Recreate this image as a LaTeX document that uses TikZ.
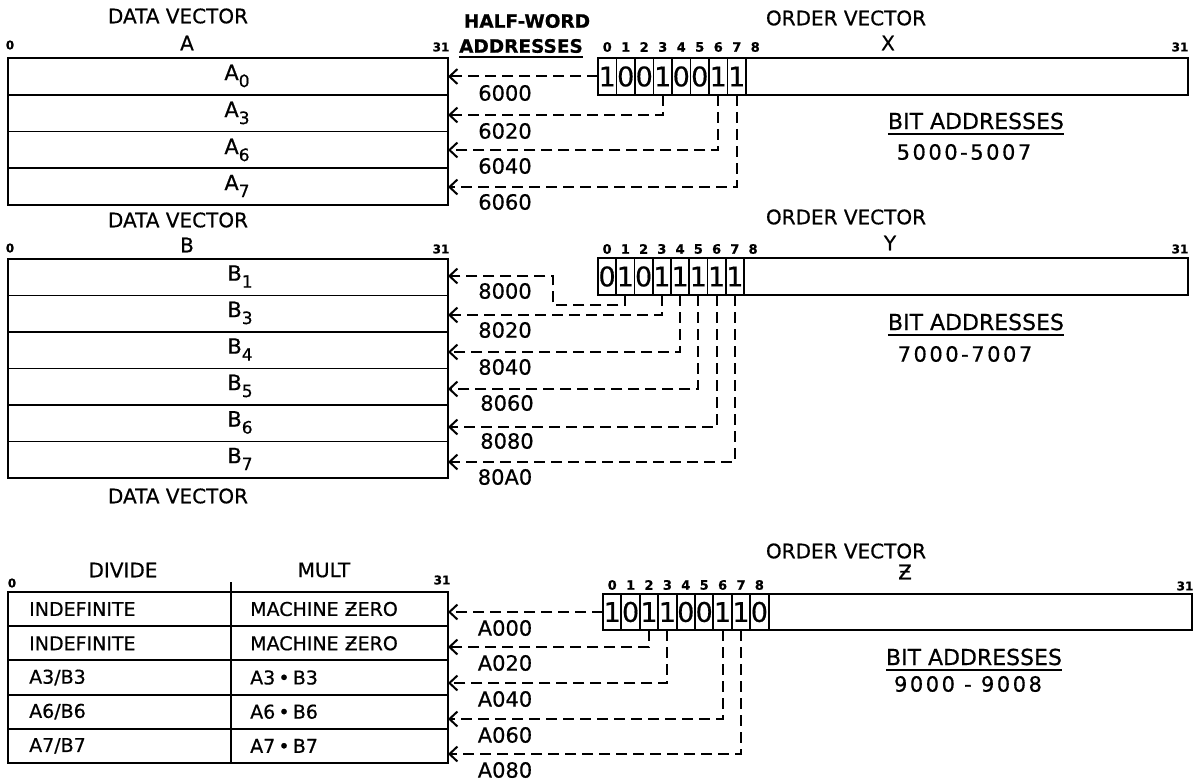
\documentclass[tikz,border=0pt]{standalone}
\usepackage{fontspec}
\setmainfont{DejaVu Sans}[FakeBold=0.6]
\newfontfamily\spacedfont[LetterSpace=12,FakeBold=0.6]{DejaVu Sans}
\usetikzlibrary{arrows.meta}
\newcommand\vsubs[2]{#1\raisebox{-7pt}{\fontsize{17}{17}\selectfont #2}}
\begin{document}
\begin{tikzpicture}[x=1pt,y=-1pt,
  box/.style={draw, line width=1.9pt, inner sep=0pt, outer sep=0pt, anchor=north west},
  bitcell/.style={box, font=\fontsize{27}{27}\selectfont},
  bitnum/.style={inner sep=0pt, font=\bfseries\fontsize{13}{13}\selectfont},
  endnum/.style={inner sep=0pt, font=\bfseries\fontsize{12}{12}\selectfont},
  head/.style={inner sep=0pt, font=\fontsize{20}{20}\selectfont},
  hbold/.style={inner sep=0pt, font=\bfseries\fontsize{18.5}{18.5}\selectfont},
  bita/.style={inner sep=0pt, font=\fontsize{22}{22}\selectfont},
  addrrange/.style={inner sep=0pt, font=\spacedfont\fontsize{21}{21}\selectfont},
  addr/.style={inner sep=0pt, font=\fontsize{21}{21}\selectfont},
  rowlbl/.style={inner sep=0pt, font=\fontsize{21}{21}\selectfont},
  tbl/.style={inner sep=0pt, anchor=west, font=\fontsize{19}{19}\selectfont},
  uline/.style={line width=1.8pt},
  solidline/.style={line width=1.9pt},
  conn/.style={line width=2pt, dash pattern=on 11pt off 6pt,
    -{Straight Barb[length=8pt,width=15pt,line width=2pt]}}
]
\useasboundingbox (0,0) rectangle (1196,781);

% ================= Section A =================
\node[head] (dvA) at (178,16) {DATA VECTOR};
\node[head] (lA) at (187,43) {A};
\node[endnum] (zA) at (10,45) {0};
\node[endnum] (tA) at (441,47) {31};
\node[box, minimum width=440pt, minimum height=36.75pt] (a0) at (8,58) {};
\node[box, minimum width=440pt, minimum height=36.75pt] (a3) at (8,94.75) {};
\node[box, minimum width=440pt, minimum height=36.75pt] (a6) at (8,131.5) {};
\node[box, minimum width=440pt, minimum height=36.75pt] (a7) at (8,168.25) {};
\node[rowlbl] (la0) at (237,76) {\vsubs{A}{0}};
\node[rowlbl] (la3) at (237,113) {\vsubs{A}{3}};
\node[rowlbl] (la6) at (237,150) {\vsubs{A}{6}};
\node[rowlbl] (la7) at (237,186) {\vsubs{A}{7}};

\node[hbold] (hw) at (527,21) {HALF-WORD};
\node[hbold] (hwa) at (521,46) {ADDRESSES};
\draw[uline] ([yshift=-4pt]hwa.base west) -- ([yshift=-4pt]hwa.base east);

\node[head] (ovX) at (846,18) {ORDER VECTOR};
\node[head] (lX) at (888,43) {X};
\foreach \b [count=\i from 0] in {1,0,0,1,0,0,1,1}
  \node[bitcell, minimum width=18.5pt, minimum height=37pt] (x\i) at ({598+18.5*\i},58) {\b};
\node[box, minimum width=442pt, minimum height=37pt] (xr) at (746,58) {};
\foreach \i in {0,...,8}
  \node[bitnum] (xn\i) at ({598+18.5*\i+9.25},47) {\i};
\node[endnum] (tX) at (1180,47) {31};
\node[bita] (baX) at (976,121) {BIT ADDRESSES};
\draw[uline] ([yshift=-5pt]baX.base west) -- ([yshift=-5pt]baX.base east);
\node[addrrange] (rX) at (964,152) {5000-5007};

\coordinate (pA0) at (448,76.5);
\coordinate (pA3) at (448,115);
\coordinate (pA6) at (448,150);
\coordinate (pA7) at (448,187);
\draw[conn] (x0.west) -- (pA0);
\draw[conn] (x3.south) |- (pA3);
\draw[conn] (x6.south) |- (pA6);
\draw[conn] (x7.south) |- (pA7);
\node[addr] (n6000) at (505,93) {6000};
\node[addr] (n6020) at (505,131) {6020};
\node[addr] (n6040) at (505,166) {6040};
\node[addr] (n6060) at (505,202) {6060};

% ================= Section B =================
\node[head] (dvB) at (178,220) {DATA VECTOR};
\node[head] (lB) at (187,245) {B};
\node[endnum] (zB) at (10,248) {0};
\node[endnum] (tB) at (441,249) {31};
\foreach \n [count=\k from 0] in {1,3,4,5,6,7} {
  \node[box, minimum width=440pt, minimum height=36.5pt] (b\n) at (8,{259+36.5*\k}) {};
  \node[rowlbl] (lb\n) at (240,{259+36.5*\k+17.5}) {\vsubs{B}{\n}};
}
\node[head] (dvB2) at (178,496) {DATA VECTOR};

\node[head] (ovY) at (846,217) {ORDER VECTOR};
\node[head] (lY) at (890,243) {Y};
\foreach \b [count=\i from 0] in {0,1,0,1,1,1,1,1}
  \node[bitcell, minimum width=18.25pt, minimum height=37pt] (y\i) at ({598+18.25*\i},258) {\b};
\node[box, minimum width=444pt, minimum height=37pt] (yr) at (744,258) {};
\foreach \i in {0,...,8}
  \node[bitnum] (yn\i) at ({598+18.25*\i+9.1},249) {\i};
\node[endnum] (tY) at (1180,249) {31};
\node[bita] (baY) at (976,322) {BIT ADDRESSES};
\draw[uline] ([yshift=-5pt]baY.base west) -- ([yshift=-5pt]baY.base east);
\node[addrrange] (rY) at (965,354) {7000-7007};

\coordinate (pB1) at (448,276);
\coordinate (kB1) at (553,305);
\coordinate (pB3) at (448,315);
\coordinate (pB4) at (448,352);
\coordinate (pB5) at (448,389);
\coordinate (pB6) at (448,427);
\coordinate (pB7) at (448,462);
\draw[conn] (y1.south) |- (kB1) |- (pB1);
\draw[conn] (y3.south) |- (pB3);
\draw[conn] (y4.south) |- (pB4);
\draw[conn] (y5.south) |- (pB5);
\draw[conn] (y6.south) |- (pB6);
\draw[conn] (y7.south) |- (pB7);
\node[addr] (n8000) at (505,291) {8000};
\node[addr] (n8020) at (505,330) {8020};
\node[addr] (n8040) at (505,367) {8040};
\node[addr] (n8060) at (507,403) {8060};
\node[addr] (n8080) at (507,441) {8080};
\node[addr] (n80A0) at (505,477) {80A0};

% ================= Section C =================
\node[head] (hdiv) at (123,570) {DIVIDE};
\node[head] (hmul) at (324,570) {MULT};
\node[endnum] (zC) at (12,583) {0};
\node[endnum] (tC) at (442,580) {31};
\node[box, minimum width=440pt, minimum height=34.2pt] (c0) at (8,592) {};
\node[box, minimum width=440pt, minimum height=34.2pt] (c2) at (8,626.2) {};
\node[box, minimum width=440pt, minimum height=34.2pt] (c3) at (8,660.4) {};
\node[box, minimum width=440pt, minimum height=34.2pt] (c6) at (8,694.6) {};
\node[box, minimum width=440pt, minimum height=34.2pt] (c7) at (8,728.8) {};
\coordinate (dtop) at (231,582);
\coordinate (dbot) at (231,763);
\draw[solidline] (dtop) -- (dbot);
\node[tbl] (cl0) at (29,609) {INDEFINITE};
\node[tbl] (cl2) at (29,643.3) {INDEFINITE};
\node[tbl] (cl3) at (29,677.5) {A3/B3};
\node[tbl] (cl6) at (29,711.7) {A6/B6};
\node[tbl] (cl7) at (29,745.9) {A7/B7};
\node[tbl] (cr0) at (250,609) {MACHINE ƵERO};
\node[tbl] (cr2) at (250,643.3) {MACHINE ƵERO};
\node[tbl] (cr3) at (250,677.5) {A3\,•\,B3};
\node[tbl] (cr6) at (250,711.7) {A6\,•\,B6};
\node[tbl] (cr7) at (250,745.9) {A7\,•\,B7};

\node[head] (ovZ) at (846,551) {ORDER VECTOR};
\node[head] (lZ) at (905,572) {Ƶ};
\foreach \b [count=\i from 0] in {1,0,1,1,0,0,1,1,0}
  \node[bitcell, minimum width=18.4pt, minimum height=36pt] (z\i) at ({603+18.4*\i},594) {\b};
\node[box, minimum width=423.4pt, minimum height=36pt] (zr) at (768.6,594) {};
\foreach \i in {0,...,8}
  \node[bitnum] (zn\i) at ({603+18.4*\i+9.2},585) {\i};
\node[endnum] (tZ) at (1185,586) {31};
\node[bita] (baZ) at (974,657) {BIT ADDRESSES};
\draw[uline] ([yshift=-5pt]baZ.base west) -- ([yshift=-5pt]baZ.base east);
\node[addrrange] (rZ) at (968,684) {9000 - 9008};

\coordinate (pC0) at (448,612);
\coordinate (pC2) at (448,647);
\coordinate (pC3) at (448,683);
\coordinate (pC6) at (448,719);
\coordinate (pC7) at (448,754);
\draw[conn] (z0.west) -- (pC0);
\draw[conn] (z2.south) |- (pC2);
\draw[conn] (z3.south) |- (pC3);
\draw[conn] (z6.south) |- (pC6);
\draw[conn] (z7.south) |- (pC7);
\node[addr] (nA000) at (505,628) {A000};
\node[addr] (nA020) at (505,663) {A020};
\node[addr] (nA040) at (505,699) {A040};
\node[addr] (nA060) at (505,735) {A060};
\node[addr] (nA080) at (505,770) {A080};
\end{tikzpicture}
\end{document}
